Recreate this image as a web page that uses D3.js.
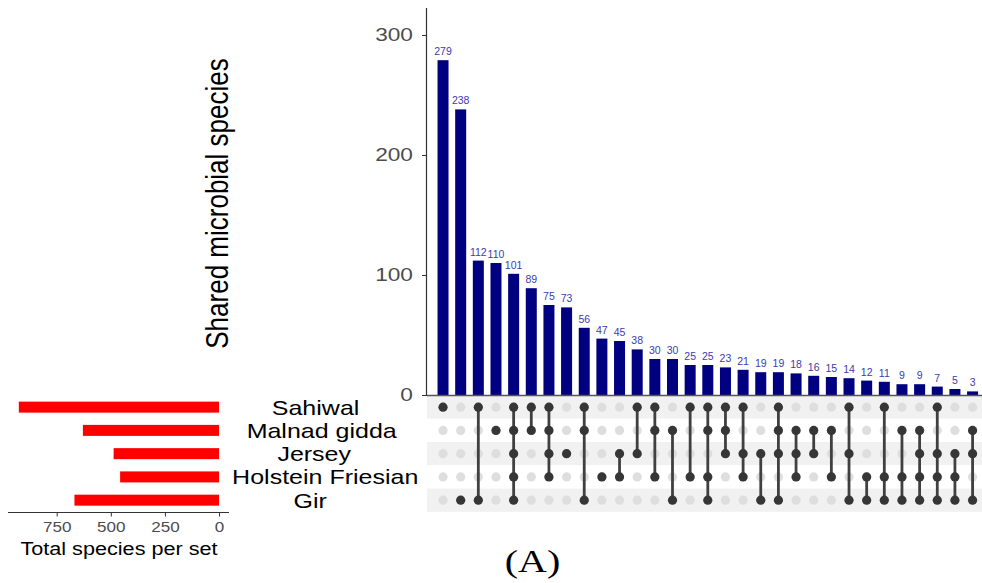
<!DOCTYPE html>
<html>
<head>
<meta charset="utf-8">
<script src="https://cdn.jsdelivr.net/npm/d3@7"></script>
<style>
  body { margin: 0; background: #fff; }
  svg { display: block; font-family: "Liberation Sans", Arial, sans-serif; }
</style>
</head>
<body>
<svg id="chart" width="982" height="583"></svg>
<script>
// sets, top to bottom in the matrix
const setNames = ["Sahiwal", "Malnad gidda", "Jersey", "Holstein Friesian", "Gir"];
const setSizes = [925, 629, 487, 457, 668];

// intersection sizes, in the order shown
const interSizes = [279, 238, 112, 110, 101, 89, 75, 73, 56, 47, 45, 38, 30, 30, 25, 25,
                    23, 21, 19, 19, 18, 16, 15, 14, 12, 11, 9, 9, 7, 5, 3];

// members of each intersection (S=Sahiwal, M=Malnad gidda, J=Jersey, H=Holstein Friesian, G=Gir)
const interSets = ["S", "G", "SG", "M", "SMJHG", "SM", "SMJH", "J", "SMG", "H",
                   "JH", "SJ", "SMH", "MG", "SH", "SMHG", "SMJ", "SJH", "JG", "SMJG",
                   "MJH", "MJ", "MH", "SJG", "HG", "SHG", "MHG", "MJHG", "SJHG", "JHG", "MJG"];

const yTicks = [0, 100, 200, 300];
const setTicks = [750, 500, 250, 0];

const code = { "Sahiwal": "S", "Malnad gidda": "M", "Jersey": "J", "Holstein Friesian": "H", "Gir": "G" };

// the source picture is a bit wider than tall, text gets stretched the same way
const stretch = 1.22;

const svg = d3.select('#chart');

// scales
const x = d3.scaleBand().domain(d3.range(interSizes.length)).range([434.2, 981.4]).padding(0);
const y = d3.scaleLinear().domain([0, 322.5]).range([395, 8]);
const row = d3.scaleBand().domain(setNames).range([395.5, 511.8]);
const xs = d3.scaleLinear().domain([-46, 975]).range([229, 8]);

const barW = 11;

// matrix stripes
svg.append('g').selectAll('rect')
    .data(setNames)
    .enter()
    .append('rect')
    .attr('x', 427)
    .attr('y', d => row(d))
    .attr('width', 982 - 427)
    .attr('height', row.bandwidth())
    .attr('fill', (d, i) => i % 2 === 0 ? '#f1f1f1' : '#ffffff');

// intersection bars
svg.append('g').selectAll('rect')
    .data(interSizes)
    .enter()
    .append('rect')
    .attr('x', (d, i) => x(i) + x.bandwidth() / 2 - barW / 2)
    .attr('y', d => y(d))
    .attr('width', barW)
    .attr('height', d => y(0) - y(d))
    .attr('fill', '#000080');

// bar labels
svg.append('g').selectAll('text')
    .data(interSizes)
    .enter()
    .append('text')
    .attr('x', (d, i) => x(i) + x.bandwidth() / 2)
    .attr('y', d => y(d) - 5)
    .attr('text-anchor', 'middle')
    .style('font-size', '10.5px')
    .attr('fill', '#3b3bb0')
    .text(d => d);

// y axis
const yAxis = svg.append('g')
    .attr('transform', 'translate(427,0)')
    .call(d3.axisLeft(y).tickValues(yTicks).tickSize(5));
yAxis.select('.domain').attr('d', `M-0.5,${y(322.5)}V${y(0)}`).attr('stroke', '#333').attr('stroke-width', 1.2);
yAxis.selectAll('.tick line').attr('stroke', '#333');
yAxis.selectAll('.tick text')
    .attr('x', -11.5)
    .attr('dy', '0.3em')
    .attr('transform', `scale(${stretch},1)`)
    .style('font-size', '18.6px')
    .attr('fill', '#4d4d4d');

// baseline
svg.append('line')
    .attr('x1', 427).attr('x2', 982)
    .attr('y1', y(0) + 0.5).attr('y2', y(0) + 0.5)
    .attr('stroke', '#555').attr('stroke-width', 1.5);

svg.append('text')
    .attr('transform', `translate(228,203.5) scale(${stretch},1) rotate(-90)`)
    .attr('text-anchor', 'middle')
    .style('font-size', '26px')
    .attr('fill', '#000')
    .text('Shared microbial species');

// matrix dots and connectors
const cols = svg.append('g');
interSets.forEach((s, i) => {
    const cx = x(i) + x.bandwidth() / 2;
    const on = setNames.filter(n => s.includes(code[n]));
    const g = cols.append('g');
    g.selectAll('circle.off')
        .data(setNames)
        .enter()
        .append('circle')
        .attr('cx', cx)
        .attr('cy', d => row(d) + row.bandwidth() / 2)
        .attr('r', 4.6)
        .attr('fill', '#dedede');
    if (on.length > 1) {
        g.append('line')
            .attr('x1', cx).attr('x2', cx)
            .attr('y1', row(on[0]) + row.bandwidth() / 2)
            .attr('y2', row(on[on.length - 1]) + row.bandwidth() / 2)
            .attr('stroke', '#404040')
            .attr('stroke-width', 2.8);
    }
    g.selectAll('circle.on')
        .data(on)
        .enter()
        .append('circle')
        .attr('cx', cx)
        .attr('cy', d => row(d) + row.bandwidth() / 2)
        .attr('r', 4.6)
        .attr('fill', '#363636');
});

// set labels (anchored at about 40% of their width, like the original)
svg.append('g').selectAll('text')
    .data(setNames)
    .enter()
    .append('text')
    .attr('y', 0)
    .attr('dy', '0.36em')
    .style('font-size', '20.5px')
    .attr('fill', '#000')
    .text(d => d)
    .attr('transform', function(d) {
        const w = this.getComputedTextLength() * stretch;
        const left = 307 - 0.402 * w;
        return `translate(${left},${row(d) + row.bandwidth() / 2}) scale(${stretch},1)`;
    });

// set size bars
svg.append('g').selectAll('rect')
    .data(setNames)
    .enter()
    .append('rect')
    .attr('x', (d, i) => xs(setSizes[i]))
    .attr('y', d => row(d) + row.bandwidth() / 2 - 5.5)
    .attr('width', (d, i) => xs(0) - xs(setSizes[i]))
    .attr('height', 11)
    .attr('fill', '#ff0000');

const xAxis = svg.append('g')
    .attr('transform', 'translate(0,512.5)')
    .call(d3.axisBottom(xs).tickValues(setTicks).tickSize(4));
xAxis.select('.domain').attr('d', 'M8,0H229').attr('stroke', '#333').attr('stroke-width', 1.2);
xAxis.selectAll('.tick line').attr('stroke', '#333');
xAxis.selectAll('.tick text')
    .attr('y', 10)
    .attr('transform', `scale(${stretch},1)`)
    .style('font-size', '14px')
    .attr('fill', '#4d4d4d');

svg.append('text')
    .attr('transform', `translate(119,555) scale(1.17,1)`)
    .attr('text-anchor', 'middle')
    .style('font-size', '18.5px')
    .attr('fill', '#000')
    .text('Total species per set');

svg.append('text')
    .attr('transform', `translate(532.5,571.5) scale(1.25,1)`)
    .attr('text-anchor', 'middle')
    .style('font-family', '"Liberation Serif", "Times New Roman", serif')
    .style('font-size', '32px')
    .attr('fill', '#000')
    .text('(A)');
</script>
</body>
</html>
